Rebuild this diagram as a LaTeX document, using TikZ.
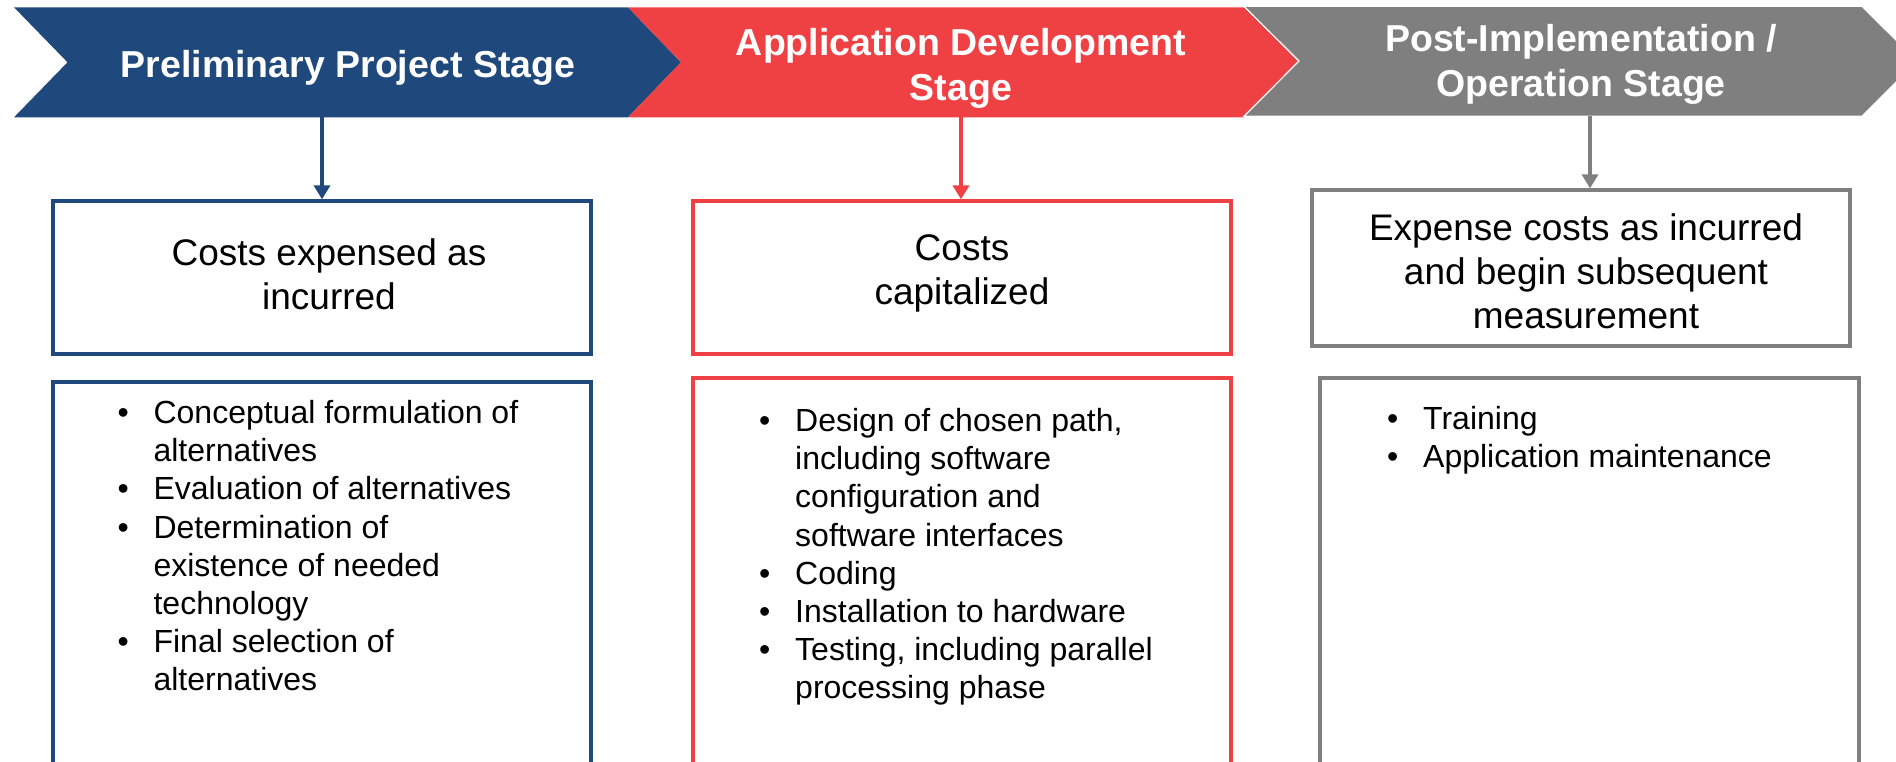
\documentclass[tikz,border=0pt]{standalone}
\usepackage{fontspec}
\setmainfont{Liberation Sans}
\usetikzlibrary{arrows.meta,positioning}
\definecolor{stageblue}{RGB}{31,73,125}
\definecolor{stagered}{RGB}{239,65,68}
\definecolor{stagegray}{RGB}{127,127,127}
\tikzset{>={Triangle[width=16pt,length=14pt]}}
\newcommand{\stk}[1]{\begin{tabular}[t]{@{}c@{}}#1\end{tabular}}
\newcommand{\blist}[1]{\begin{tabular}[t]{@{}p{36pt}@{}l@{}}#1\end{tabular}}

\begin{document}
\begin{tikzpicture}[x=1pt,y=-1pt,
  stagetxt/.style={text=white,font=\fontsize{37.5}{45}\selectfont\bfseries,inner sep=0pt,anchor=base},
  costbox/.style={draw,line width=3.3pt,minimum width=538pt,minimum height=153pt,inner sep=0pt},
  listbox/.style={draw,line width=3.3pt,minimum width=538pt,minimum height=420pt,inner sep=0pt},
  costtxt/.style={font=\fontsize{37}{44}\selectfont,inner sep=0pt,anchor=base},
  itemtxt/.style={font=\fontsize{32}{38.2}\selectfont,inner sep=0pt,anchor=base west},
  link/.style={->,line width=3.6pt}]
\clip (0,0) rectangle (1896,761);
% stage banner
\fill[stageblue] (14,7.3) -- (628,7.3) -- (681,62.3) -- (628,117.3) -- (14,117.3) -- (67.5,62.3) -- cycle;
\fill[stagered] (628,7.3) -- (1244,7.3) -- (1299,62) -- (1244,117.3) -- (628,117.3) -- (681,62.3) -- cycle;
\filldraw[fill=stagegray,draw=white,line width=1.2pt] (1244,6.3) -- (1862,6.3) -- (1917,61) -- (1862,116.3) -- (1244,116.3) -- (1299,61) -- cycle;
\node[stagetxt] (prestage) at (348,77.3) {Preliminary Project Stage};
\node[stagetxt] (appstage) at (961,55.3) {\stk{Application Development\\Stage}};
\node[stagetxt] (poststage) at (1581,51) {\stk{Post-Implementation /\\Operation Stage}};
\coordinate (pre) at (322,117.3);
\coordinate (app) at (961,117.3);
\coordinate (post) at (1590,116.3);

% cost treatment
\node[costbox,draw=stageblue] (cost1) at (322,277.5) {};
\node[costbox,draw=stagered] (cost2) at (962,277.5) {};
\node[costbox,draw=stagegray,minimum height=156pt] (cost3) at (1581,268) {};
\node[costtxt] (costtxt1) at (329,265) {\stk{Costs expensed as\\incurred}};
\node[costtxt] (costtxt2) at (962,260) {\stk{Costs\\capitalized}};
\node[costtxt] (costtxt3) at (1586,240) {\stk{Expense costs as incurred\\and begin subsequent\\measurement}};
\draw[link,stageblue] (pre) -- (cost1);
\draw[link,stagered] (app) -- (app |- cost2.north);
\draw[link,stagegray] (post) -- (post |- cost3.north);

% activities
\node[listbox,draw=stageblue] (list1) at (322,592) {};
\node[listbox,draw=stagered] (list2) at (962,588) {};
\node[listbox,draw=stagegray,minimum width=539pt] (list3) at (1589.5,588) {};
\node[itemtxt] (items1) at (117.4,423.5) {\blist{\textbullet & Conceptual formulation of\\
  & alternatives\\
  \textbullet & Evaluation of alternatives\\
  \textbullet & Determination of\\
  & existence of needed\\
  & technology\\
  \textbullet & Final selection of\\
  & alternatives}};
\node[itemtxt] (items2) at (759,431.5) {\blist{\textbullet & Design of chosen path,\\
  & including software\\
  & configuration and\\
  & software interfaces\\
  \textbullet & Coding\\
  \textbullet & Installation to hardware\\
  \textbullet & Testing, including parallel\\
  & processing phase}};
\node[itemtxt] (items3) at (1387,429.5) {\blist{\textbullet & Training\\
  \textbullet & Application maintenance}};
\end{tikzpicture}
\end{document}
